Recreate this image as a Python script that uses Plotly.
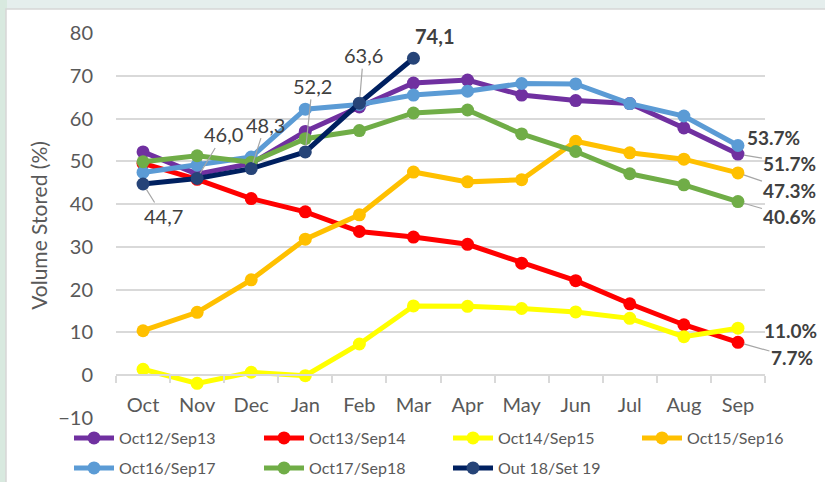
import plotly.graph_objects as go

months = ["Oct", "Nov", "Dec", "Jan", "Feb", "Mar", "Apr", "May", "Jun", "Jul", "Aug", "Sep"]

oct12_sep13 = [52.2, 47.0, 49.5, 57.0, 62.7, 68.3, 69.0, 65.5, 64.2, 63.5, 57.8, 51.7]
oct13_sep14 = [49.5, 45.8, 41.3, 38.2, 33.6, 32.3, 30.6, 26.2, 22.1, 16.7, 11.8, 7.7]
oct14_sep15 = [1.4, -1.9, 0.7, -0.1, 7.3, 16.2, 16.1, 15.6, 14.8, 13.3, 9.0, 11.0]
oct15_sep16 = [10.4, 14.7, 22.3, 31.8, 37.5, 47.5, 45.2, 45.7, 54.7, 52.0, 50.5, 47.3]
oct16_sep17 = [47.4, 49.1, 51.0, 62.2, 63.3, 65.5, 66.4, 68.2, 68.1, 63.5, 60.6, 53.7]
oct17_sep18 = [49.9, 51.3, 49.8, 55.3, 57.2, 61.3, 62.0, 56.4, 52.3, 47.1, 44.5, 40.6]
out18_set19 = [44.7, 46.0, 48.3, 52.2, 63.6, 74.1]

series_names = ["Oct12/Sep13", "Oct13/Sep14", "Oct14/Sep15", "Oct15/Sep16",
                "Oct16/Sep17", "Oct17/Sep18", "Out 18/Set 19"]
series_values = [oct12_sep13, oct13_sep14, oct14_sep15, oct15_sep16,
                 oct16_sep17, oct17_sep18, out18_set19]
line_colors = ["#7030a0", "#ff0000", "#ffff00", "#ffc000", "#5b9bd5", "#70ad47", "#002060"]
marker_colors = ["#7030a0", "#ff0000", "#ffff00", "#ffc000", "#5b9bd5", "#70ad47", "#264478"]

FONT = "Lato, 'Open Sans', sans-serif"
GRAY = "#595959"
DARK = "#404040"
GRID = "#d9d9d9"

L, R, T, B = 116, 60, 33, 64
W, H = 825, 482
pw, ph = W - L - R, H - T - B
def px_x(p):
    return (p - L) / pw
def px_y(p):
    return (H - B - p) / ph

# legend slots (left px of item, top px of row)
legend_slots = [(69, 421), (259, 421), (448, 421), (637, 421),
                (69, 451), (259, 451), (448, 451)]

fig = go.Figure()
legend_layout = {}
for k, (name, vals, lc, mc, (lx, ly)) in enumerate(zip(series_names, series_values, line_colors,
                                                        marker_colors, legend_slots)):
    lid = "legend" if k == 0 else f"legend{k + 1}"
    fig.add_trace(go.Scatter(
        x=months[:len(vals)], y=vals, name=name, mode="lines+markers",
        line=dict(color=lc, width=5),
        marker=dict(color=mc, size=13),
        legend=lid, hoverinfo="skip",
    ))
    legend_layout[lid] = dict(
        orientation="h", x=px_x(lx), y=px_y(ly), xanchor="left", yanchor="top",
        itemwidth=40, font=dict(family=FONT, size=16, color=GRAY),
        bgcolor="rgba(0,0,0,0)", borderwidth=0,
    )

# Data labels for the 2018/19 series (text-centre offsets in px)
navy_offsets = [(20, 32, True), (26, -44, True), (14, -44, True), (7, -66, True), (4, -48, True), (21, -22, False)]
for i, (v, (dx, dy, arrow)) in enumerate(zip(out18_set19, navy_offsets)):
    txt = f"{v:.1f}".replace(".", ",")
    if i == len(out18_set19) - 1:
        txt = f"<b>{txt}</b>"
    if arrow:
        fig.add_annotation(x=months[i], y=v, text=txt, showarrow=True, ax=dx, ay=dy,
                           xanchor="center", yanchor="middle",
                           arrowhead=0, arrowwidth=1.2, arrowcolor="#a6a6a6", standoff=6,
                           font=dict(family=FONT, size=20, color=DARK))
    else:
        fig.add_annotation(x=months[i], y=v, text=txt, showarrow=False, xshift=dx, yshift=-dy,
                           xanchor="center", yanchor="middle",
                           font=dict(family=FONT, size=20, color=DARK))

# End-of-season labels (Sep)
end_series = [oct16_sep17, oct12_sep13, oct15_sep16, oct17_sep18, oct14_sep15, oct13_sep14]
end_offsets = [(36, -8, False), (52, 9, True), (52, 18, True), (52, 15, True), (53, 2, False), (54, 15, True)]
for vals, (dx, dy, arrow) in zip(end_series, end_offsets):
    v = vals[-1]
    txt = f"<b>{v:.1f}%</b>"
    if arrow:
        fig.add_annotation(x="Sep", y=v, text=txt, showarrow=True, ax=dx, ay=dy,
                           xanchor="center", yanchor="middle",
                           arrowhead=0, arrowwidth=1.2, arrowcolor="#a6a6a6", standoff=6,
                           font=dict(family=FONT, size=19, color=DARK))
    else:
        fig.add_annotation(x="Sep", y=v, text=txt, showarrow=False, xshift=dx, yshift=-dy,
                           xanchor="center", yanchor="middle",
                           font=dict(family=FONT, size=19, color=DARK))

# Slide-like background: white card with thin border
fig.add_shape(type="rect", xref="paper", yref="paper", layer="below",
              x0=px_x(0), x1=px_x(7), y0=px_y(483), y1=px_y(0),
              fillcolor="#d8e9df", line=dict(width=0))
fig.add_shape(type="rect", xref="paper", yref="paper", layer="below",
              x0=px_x(6), x1=px_x(830), y0=px_y(490), y1=px_y(9),
              fillcolor="white", line=dict(color="#d6d6d6", width=1.5))

fig.update_layout(
    width=W, height=H,
    margin=dict(l=L, r=R, t=T, b=B, autoexpand=False),
    paper_bgcolor="#e5eeed",
    plot_bgcolor="rgba(0,0,0,0)",
    font=dict(family=FONT, color=GRAY),
    showlegend=True,
    hovermode=False,
    xaxis=dict(
        categoryorder="array", categoryarray=months,
        range=[-0.5, 11.5], anchor="free", position=10 / 90,
        showline=True, linecolor=GRID, linewidth=1.5,
        ticks="outside", tickson="boundaries", ticklen=7, tickcolor=GRID, tickwidth=1.5,
        ticklabelstandoff=12, automargin=False,
        tickfont=dict(family=FONT, size=20, color=GRAY),
        showgrid=False, zeroline=False,
    ),
    yaxis=dict(
        range=[-10, 80], dtick=10, tick0=0,
        showgrid=True, gridcolor=GRID, gridwidth=1.5,
        zeroline=False, showline=False, automargin=False,
        ticks="", ticklabelstandoff=22,
        tickfont=dict(family=FONT, size=20, color=GRAY),
        title=dict(text="Volume Stored (%)", standoff=4,
                   font=dict(family=FONT, size=21, color=GRAY)),
    ),
    **legend_layout,
)

fig.write_html("out.html",
               config={"displayModeBar": False},
               post_script="document.body.style.margin='0';document.body.style.overflow='hidden';")
